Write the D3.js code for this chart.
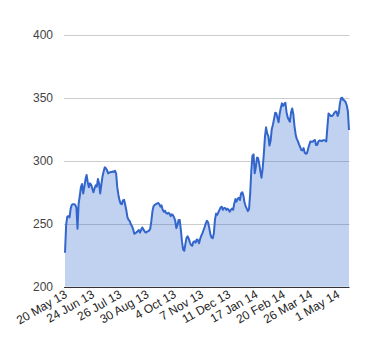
<!DOCTYPE html>
<html><head><meta charset="utf-8">
<script src="https://cdn.jsdelivr.net/npm/d3@7"></script>
<style>html,body{margin:0;padding:0;background:#fff;}svg{display:block;}</style>
</head><body>
<svg id="chart" width="380" height="360"></svg>
<script>
const tickLabels = ["20 May 13","24 Jun 13","26 Jul 13","30 Aug 13","4 Oct 13","7 Nov 13","11 Dec 13","17 Jan 14","20 Feb 14","26 Mar 14","1 May 14"];
const tickEvery = 24;
const yTicks = [200, 250, 300, 350, 400];
const prices = [
227,249,255.6,256,255,262,265,265.5,265.5,265,263,246,266,272,279,281.5,274,279,285,288.7,
283,279,282,281,278,275,278,280.5,279.4,285.5,282,274,281,287.5,291.5,294.7,294,292.5,290,290.5,
291,291,291.5,291,292,290,279,273,268.5,266,265.5,268.5,269,265,260.5,255,253,252,249.5,248,
245.5,242,242.5,243.3,244,245,243,245,247,245.5,244,243,243.5,244,244.5,246,252,260,264,265,
265.5,266,266.5,265.5,263.5,264.5,261,259.5,260.3,258.5,258,258.7,258,256,257.5,256.8,255,252.5,246.5,249,
253,253,245,235.7,229.5,228.5,234,239,240,238,235,233,232.5,235.5,236,235,237.5,237,234.5,238,
240.5,242.5,245,247.5,250.5,252.4,251,246.5,241.5,239,238.5,242,253,258,257,259,261,263,263.5,261,
262.5,262.5,261,261.8,261,259.5,261,262,261,266,269.5,267.5,270,270.5,268.8,274,275,272.5,267,264,
262,260,261.5,274,292,304,305,290,295,302.5,302,297.5,291.5,286.5,294,305,319,326.5,321.7,319.5,
312,316,325,328.5,333,338,337.7,334,330.5,337.5,342,345.5,343.5,345,346,338.5,334.5,332.5,331,338.5,
341.5,337,327.5,321,317.3,315.5,313,311,308.5,308.2,310,306.5,305.5,306,309.5,312.5,315.3,315,315,316,
316.4,312.5,312.5,315.2,316,315.8,315.6,316.2,316.2,316,315.3,327,337.5,336.5,335.5,335.5,336.3,337.8,339,339,
335.5,338,345.5,349.5,350,348.2,347.8,346.5,344,339.5,324.4
];

const svg = d3.select("#chart");
const plotLeft = 65, plotRight = 349, plotTop = 34.7, plotBottom = 286.7;
const x = d3.scaleLinear().domain([0, prices.length - 1]).range([plotLeft, plotRight]);
const y = d3.scaleLinear().domain([200, 400]).range([plotBottom, plotTop]);
const font = "Arial, 'Liberation Sans', sans-serif";

svg.append("g").selectAll("line").data(yTicks.slice(1)).join("line")
  .attr("x1", plotLeft - 1).attr("x2", plotRight + 0.5)
  .attr("y1", d => Math.round(y(d)) + 0.5).attr("y2", d => Math.round(y(d)) + 0.5)
  .attr("stroke", "#cccccc").attr("stroke-width", 1);

svg.append("g").selectAll("text").data(yTicks).join("text")
  .attr("x", 53).attr("y", d => y(d) + 4.5)
  .attr("text-anchor", "end")
  .attr("font-family", font).attr("font-size", 12).attr("fill", "#444")
  .text(d => d);

const area = d3.area().x((d, i) => x(i)).y0(y(200)).y1(d => y(d));
svg.append("path").datum(prices).attr("d", area)
  .attr("fill", "#3366cc").attr("fill-opacity", 0.3);

const line = d3.line().x((d, i) => x(i)).y(d => y(d));
svg.append("path").datum(prices).attr("d", line)
  .attr("fill", "none").attr("stroke", "#3366cc").attr("stroke-width", 2)
  .attr("stroke-linejoin", "round");

svg.append("line").attr("x1", plotLeft - 1).attr("x2", plotRight + 0.5)
  .attr("y1", Math.round(y(200)) + 0.5).attr("y2", Math.round(y(200)) + 0.5)
  .attr("stroke", "#333").attr("stroke-width", 1);

svg.append("g").selectAll("text").data(tickLabels).join("text")
  .attr("transform", (d, i) => `translate(${x(i * tickEvery) + 3},${plotBottom + 10}) rotate(-30)`)
  .attr("text-anchor", "end")
  .attr("font-family", font).attr("font-size", 12).attr("fill", "#222")
  .text(d => d);
</script>
</body></html>
